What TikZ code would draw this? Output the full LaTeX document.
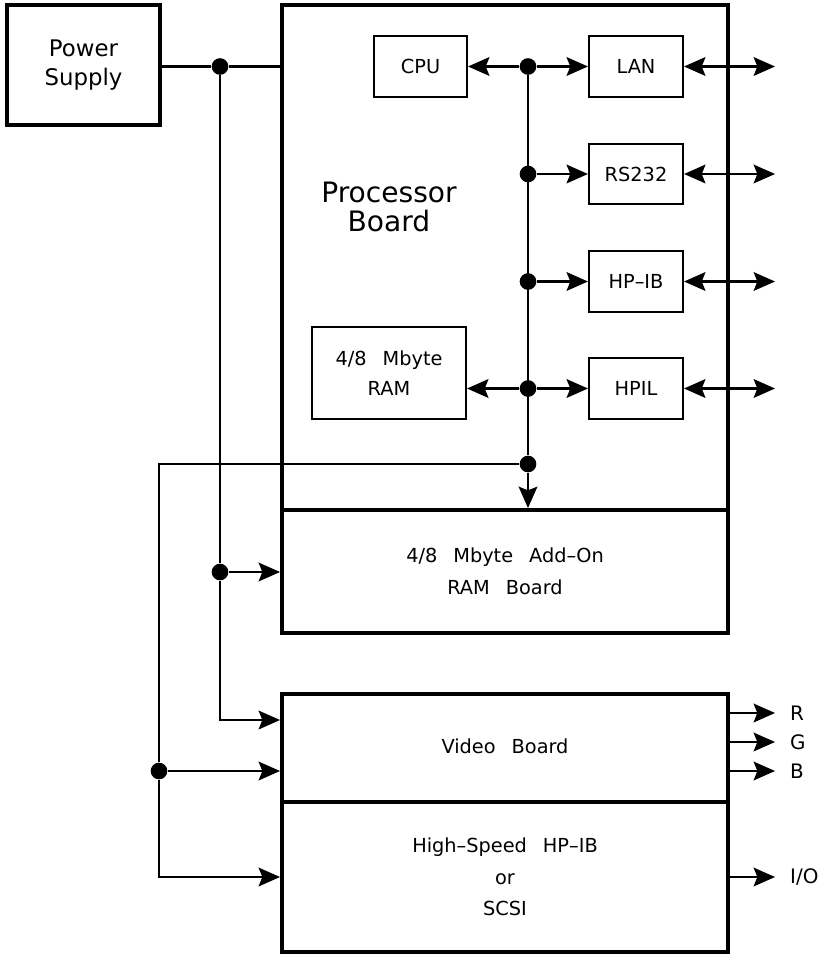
\documentclass[tikz,border=0pt]{standalone}
\usepackage{fontspec}
\setmainfont{DejaVu Sans}[WordSpace=2.6]
\usetikzlibrary{arrows.meta,positioning,calc}

\tikzset{
  board/.style={draw,line width=3.4pt,minimum width=446*0.03cm,inner sep=0pt,align=center,
    font=\fontsize{16.5}{27}\selectfont},
  unit/.style={draw,line width=1.8pt,inner sep=0pt,align=center,
    font=\fontsize{16.5}{25.5}\selectfont},
  wire/.style={line width=1.9pt},
  joint/.style={circle,fill,inner sep=0pt,minimum size=5mm},
  sig/.style={anchor=west,inner xsep=4.5mm,inner ysep=0pt,font=\fontsize{17}{18}\selectfont},
  >={Stealth[length=6.4mm,width=5.6mm,inset=1.1mm]}
}

\begin{document}
\begin{tikzpicture}[x=0.03cm,y=-0.03cm]
  \useasboundingbox (0,0) rectangle (830,955);

  % boards
  \node[board,minimum width=153*0.03cm,minimum height=120*0.03cm,
    font=\fontsize{19.5}{25.5}\selectfont] (psu) at (83.5,65) {Power\\Supply};
  \node[board,minimum height=505*0.03cm] (proc) at (505,257.5) {};
  \node[board,minimum height=123*0.03cm] (addon) at (505,571.5) {4/8 Mbyte Add--On\\RAM Board};
  \node[board,minimum height=108*0.03cm] (video) at (505,748) {\raisebox{4pt}{Video Board}};
  \node[board,minimum height=150*0.03cm] (hsio) at (505,877) {High--Speed HP--IB\\or\\SCSI};
  \node[font=\fontsize{24}{25.5}\selectfont,align=center] (proclabel) at (389,207) {Processor\\Board};

  % units on the processor board
  \node[unit,minimum width=93*0.03cm,minimum height=61*0.03cm] (cpu) at (420.5,66.5) {CPU};
  \node[unit,minimum width=94*0.03cm,minimum height=61*0.03cm] (lan) at (636,66.5) {LAN};
  \node[unit,minimum width=94*0.03cm,minimum height=60*0.03cm] (rs232) at (636,174) {RS232};
  \node[unit,minimum width=94*0.03cm,minimum height=61*0.03cm] (hpib) at (636,281.5) {HP--IB};
  \node[unit,minimum width=94*0.03cm,minimum height=61*0.03cm] (hpil) at (636,388.5) {HPIL};
  \node[unit,minimum width=154*0.03cm,minimum height=92*0.03cm] (ram) at (389,373) {4/8 Mbyte\\RAM};

  % junctions
  \node[joint] (j1) at (528,66.5) {};
  \node[joint] (j2) at (528,174) {};
  \node[joint] (j3) at (528,281.5) {};
  \node[joint] (j4) at (528,388.5) {};
  \node[joint] (j5) at (528,464) {};
  \node[joint] (pj1) at (220,66.5) {};
  \node[joint] (pj2) at (220,572) {};
  \node[joint] (vj) at (159,771) {};
  \coordinate (outx) at (775,0);

  % processor bus
  \draw[wire] (j1) -- (j5);
  \draw[wire,->] (j5) -- (j5 |- addon.north);
  \draw[wire,->] (j1) -- (cpu.east);
  \draw[wire,->] (j1) -- (lan.west);
  \draw[wire,->] (j2) -- (rs232.west);
  \draw[wire,->] (j3) -- (hpib.west);
  \draw[wire,->] (j4) -- (hpil.west);
  \draw[wire,->] (j4) -- (ram.east |- j4);
  \foreach \b in {lan,rs232,hpib,hpil}
    \draw[wire,<->] (\b.east) -- (\b.east -| outx);

  % power
  \draw[wire] (psu.east |- pj1) -- (pj1) -- (proc.west |- pj1);
  \draw[wire] (pj1) -- (pj2);
  \draw[wire,->] (pj2) -- (addon.west |- pj2);
  \draw[wire,->] (pj2) |- ($(video.west)+(0,-28)$);

  % bus to video and I/O boards
  \draw[wire] (j5) -| (vj);
  \draw[wire,->] (vj) -- (video.west |- vj);
  \draw[wire,->] (vj) |- (hsio.west);

  % outputs
  \node[sig] (r) at (775,713) {R};
  \node[sig] (g) at (775,742) {G};
  \node[sig] (b) at (775,771) {B};
  \node[sig] (io) at (775,877) {I/O};
  \foreach \s in {r,g,b}
    \draw[wire,->] (video.east |- \s) -- (\s.west);
  \draw[wire,->] (hsio.east |- io) -- (io.west);
\end{tikzpicture}
\end{document}
